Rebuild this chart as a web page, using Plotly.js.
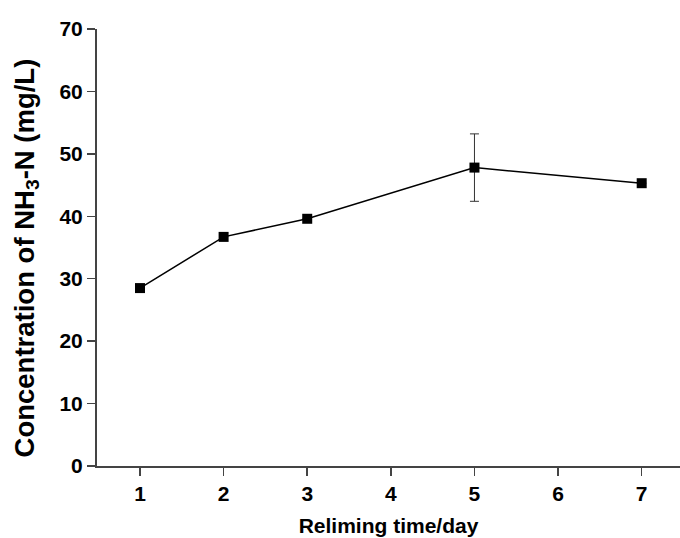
<!DOCTYPE html>
<html>
<head>
<meta charset="utf-8">
<script src="https://cdn.plot.ly/plotly-3.0.1.min.js"></script>
<style>html,body{margin:0;padding:0;background:#fff;}#chart{width:680px;height:538px;}</style>
</head>
<body>
<div id="chart"></div>
<script>
// Data
var days = [1, 2, 3, 5, 7];
var concentration = [28.5, 36.7, 39.6, 47.8, 45.3];
var errorValues = [0, 0, 0, 5.4, 0];
var xTickValues = [1, 2, 3, 4, 5, 6, 7];
var yTickValues = [0, 10, 20, 30, 40, 50, 60, 70];
var xTitle = 'Reliming time/day';
var yTitle = 'Concentration of NH<sub>3</sub>-N (mg/L)';

var FONT = '"Liberation Sans", Arial, Helvetica, sans-serif';

var trace = {
  x: days,
  y: concentration,
  type: 'scatter',
  mode: 'lines+markers',
  line: {color: '#000', width: 1.5},
  marker: {symbol: 'square', size: 10, color: '#000'},
  error_y: {type: 'data', array: errorValues, visible: true, color: '#333', thickness: 1, width: 4.5},
  cliponaxis: false,
  showlegend: false
};

var layout = {
  width: 680,
  height: 538,
  margin: {l: 97, r: 0, t: 29, b: 72},
  paper_bgcolor: '#fff',
  plot_bgcolor: '#fff',
  font: {family: FONT, color: '#000'},
  xaxis: {
    range: [0.486, 7.458],
    tickvals: xTickValues,
    ticktext: xTickValues.map(function (v) { return '<b>' + v + '</b>'; }),
    showgrid: false,
    zeroline: false,
    showline: true,
    linecolor: '#444',
    linewidth: 2,
    ticks: 'outside',
    ticklen: 8,
    tickwidth: 1.5,
    tickcolor: '#444',
    tickfont: {family: FONT, size: 21, color: '#000'},
    title: {text: '<b>' + xTitle + '</b>', font: {family: FONT, size: 21, color: '#000'}, standoff: 14},
    automargin: false
  },
  yaxis: {
    range: [0, 70],
    tickvals: yTickValues,
    ticktext: yTickValues.map(function (v) { return '<b>' + v + '</b>'; }),
    showgrid: false,
    zeroline: false,
    showline: true,
    linecolor: '#444',
    linewidth: 2,
    ticks: 'outside',
    ticklen: 8,
    tickwidth: 1.5,
    tickcolor: '#444',
    tickfont: {family: FONT, size: 21, color: '#000'},
    automargin: false
  },
  annotations: [{
    text: '<b>' + yTitle + '</b>',
    xref: 'paper', yref: 'paper',
    x: 0, y: 0.475,
    xanchor: 'center', yanchor: 'middle',
    xshift: -71,
    textangle: -90,
    showarrow: false,
    font: {family: FONT, size: 27.5, color: '#000'}
  }]
};

Plotly.newPlot('chart', [trace], layout, {displayModeBar: false, staticPlot: true});
</script>
</body>
</html>
